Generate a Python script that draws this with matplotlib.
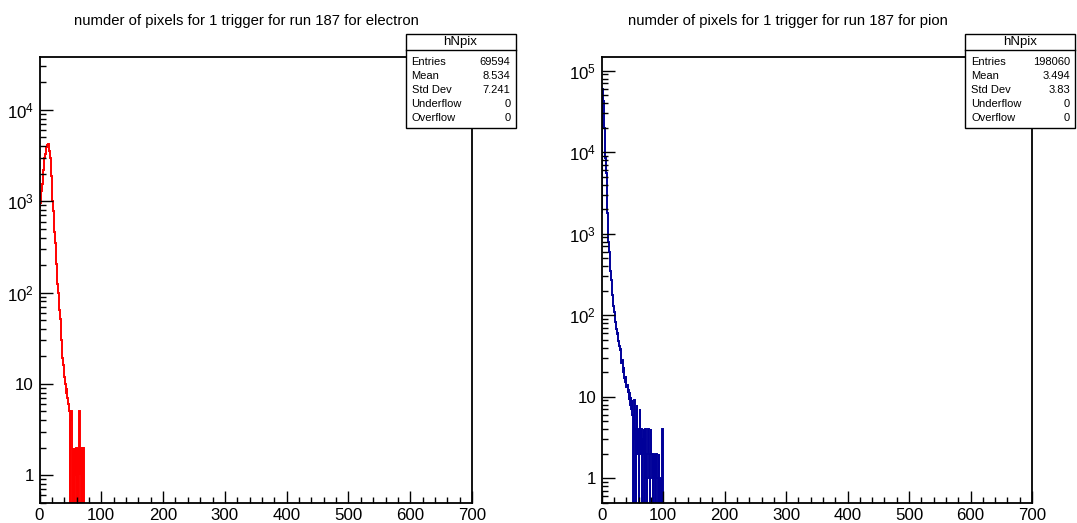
import numpy as np
import matplotlib
matplotlib.use("Agg")
import matplotlib.pyplot as plt
from matplotlib.ticker import MultipleLocator, LogLocator, FuncFormatter, NullFormatter
from matplotlib.patches import Rectangle
from matplotlib.lines import Line2D

plt.rcParams['font.family'] = ['Liberation Sans', 'DejaVu Sans']
plt.rcParams['mathtext.fontset'] = 'custom'
plt.rcParams['mathtext.rm'] = 'Liberation Sans'
plt.rcParams['mathtext.it'] = 'Liberation Sans:italic'

# ---------------- DATA (counts per 1-pixel bin, starting at 0) ---------------- #
electron_counts = [
    850, 950, 1100, 1300, 1550, 1850, 2200, 2550, 2950, 3300,
    3650, 3950, 4150, 4250, 4200, 3950, 3550, 3000, 2450, 1900,
    1400, 1000, 780, 600, 460, 350, 270, 205, 160, 125,
    98, 80, 64, 52, 42, 30, 24, 19, 16, 14,
    12, 11, 10, 8, 9, 7, 6, 5, 5, 0,
    4, 5, 2, 0, 2, 1, 0, 2, 1, 2,
    0, 1, 2, 0, 5, 1, 2, 0, 1, 2,
    0, 2, 0,
]

pion_counts = [
    1800, 60000, 42000, 30000, 20000, 13000, 8500, 5500, 3400, 1800,
    1000, 780, 600, 460, 350, 270, 210, 175, 150, 128,
    110, 95, 82, 85, 68, 58, 62, 48, 42, 36,
    38, 30, 26, 28, 22, 20, 23, 17, 15, 18,
    13, 14, 11, 12, 9, 11, 8, 10, 7, 9,
    6, 0, 8, 9, 3, 0, 4, 8, 2, 4,
    0, 3, 7, 2, 4, 0, 3, 2, 4, 0,
    2, 4, 1, 0, 2, 3, 4, 1, 0, 2,
    4, 2, 1, 0, 2, 1, 2, 0, 1, 2,
    1, 0, 0, 2, 1, 0, 1, 0, 4, 0,
]

titles = [
    "numder of pixels for 1 trigger for run 187 for electron",
    "numder of pixels for 1 trigger for run 187 for pion",
]
stat_labels = ["Entries", "Mean", "Std Dev", "Underflow", "Overflow"]
electron_stats = ["69594", "8.534", "7.241", "0", "0"]
pion_stats = ["198060", "3.494", "3.83", "0", "0"]

x_range = (0, 700)
y_min = 0.5
y_max = [38000, 147000]

# ---------------- FIGURE ---------------- #
W, H = 1077, 523


def fx(x):
    return x / W


def fy(y):
    return 1 - y / H


def log_label(v, pos):
    if v == 1:
        return "1"
    if v == 10:
        return "10"
    return r"$10^{%d}$" % int(round(np.log10(v)))


fig = plt.figure(figsize=(W / 100, H / 100), dpi=100)

panels = [
    dict(counts=electron_counts, color="#ff0000", stats=electron_stats,
         frame=(39.5, 57, 472, 502.7), title_x=246.5, box_x=405.5, ymax=y_max[0]),
    dict(counts=pion_counts, color="#000099", stats=pion_stats,
         frame=(601.7, 57, 1032, 502.7), title_x=787.5, box_x=965, ymax=y_max[1]),
]

for p, title in zip(panels, titles):
    l, t, r, b = p["frame"]
    ax = fig.add_axes([fx(l), fy(b), (r - l) / W, (b - t) / H])

    counts = np.array(p["counts"], dtype=float)
    edges = np.arange(len(counts) + 1)
    shown = np.where(counts > 0, counts, 1e-3)
    ax.stairs(shown, edges, color=p["color"], lw=1.4, baseline=None)

    ax.set_xlim(*x_range)
    ax.set_yscale("log")
    ax.set_ylim(y_min, p["ymax"])

    ax.xaxis.set_major_locator(MultipleLocator(100))
    ax.xaxis.set_minor_locator(MultipleLocator(20))
    ax.yaxis.set_major_locator(LogLocator(base=10, numticks=100))
    ax.yaxis.set_minor_locator(LogLocator(base=10, subs=np.arange(2, 10), numticks=100))
    ax.yaxis.set_major_formatter(FuncFormatter(log_label))
    ax.yaxis.set_minor_formatter(NullFormatter())

    ax.tick_params(which="both", direction="in", top=False, right=False,
                   labelsize=12.2, width=1.0, color="black")
    ax.tick_params(which="major", length=9)
    ax.tick_params(which="minor", length=4.5)
    ax.tick_params(axis="x", pad=4)
    ax.tick_params(axis="y", pad=4)
    for s in ax.spines.values():
        s.set_linewidth(1.3)

    fig.text(fx(p["title_x"]), fy(21), title, ha="center", va="center", fontsize=10.7)

    # stats box
    bx0, bx1 = p["box_x"], p["box_x"] + 110
    by0, by1 = 34, 128
    fig.add_artist(Rectangle((fx(bx0), fy(by1)), (bx1 - bx0) / W, (by1 - by0) / H,
                             transform=fig.transFigure, facecolor="white",
                             edgecolor="black", lw=1.0, zorder=10))
    fig.add_artist(Line2D([fx(bx0), fx(bx1)], [fy(50), fy(50)],
                          transform=fig.transFigure, color="black", lw=1.0, zorder=11))
    fig.text(fx((bx0 + bx1) / 2), fy(42.5), "hNpix", ha="center", va="center",
             fontsize=9.5, zorder=12)
    for i, (lab, val) in enumerate(zip(stat_labels, p["stats"])):
        yy = 61.7 + 14 * i
        fig.text(fx(bx0 + 6), fy(yy), lab, ha="left", va="center", fontsize=8, zorder=12)
        fig.text(fx(bx1 - 5), fy(yy), val, ha="right", va="center", fontsize=8, zorder=12)

fig.savefig("out.png", dpi=100)
